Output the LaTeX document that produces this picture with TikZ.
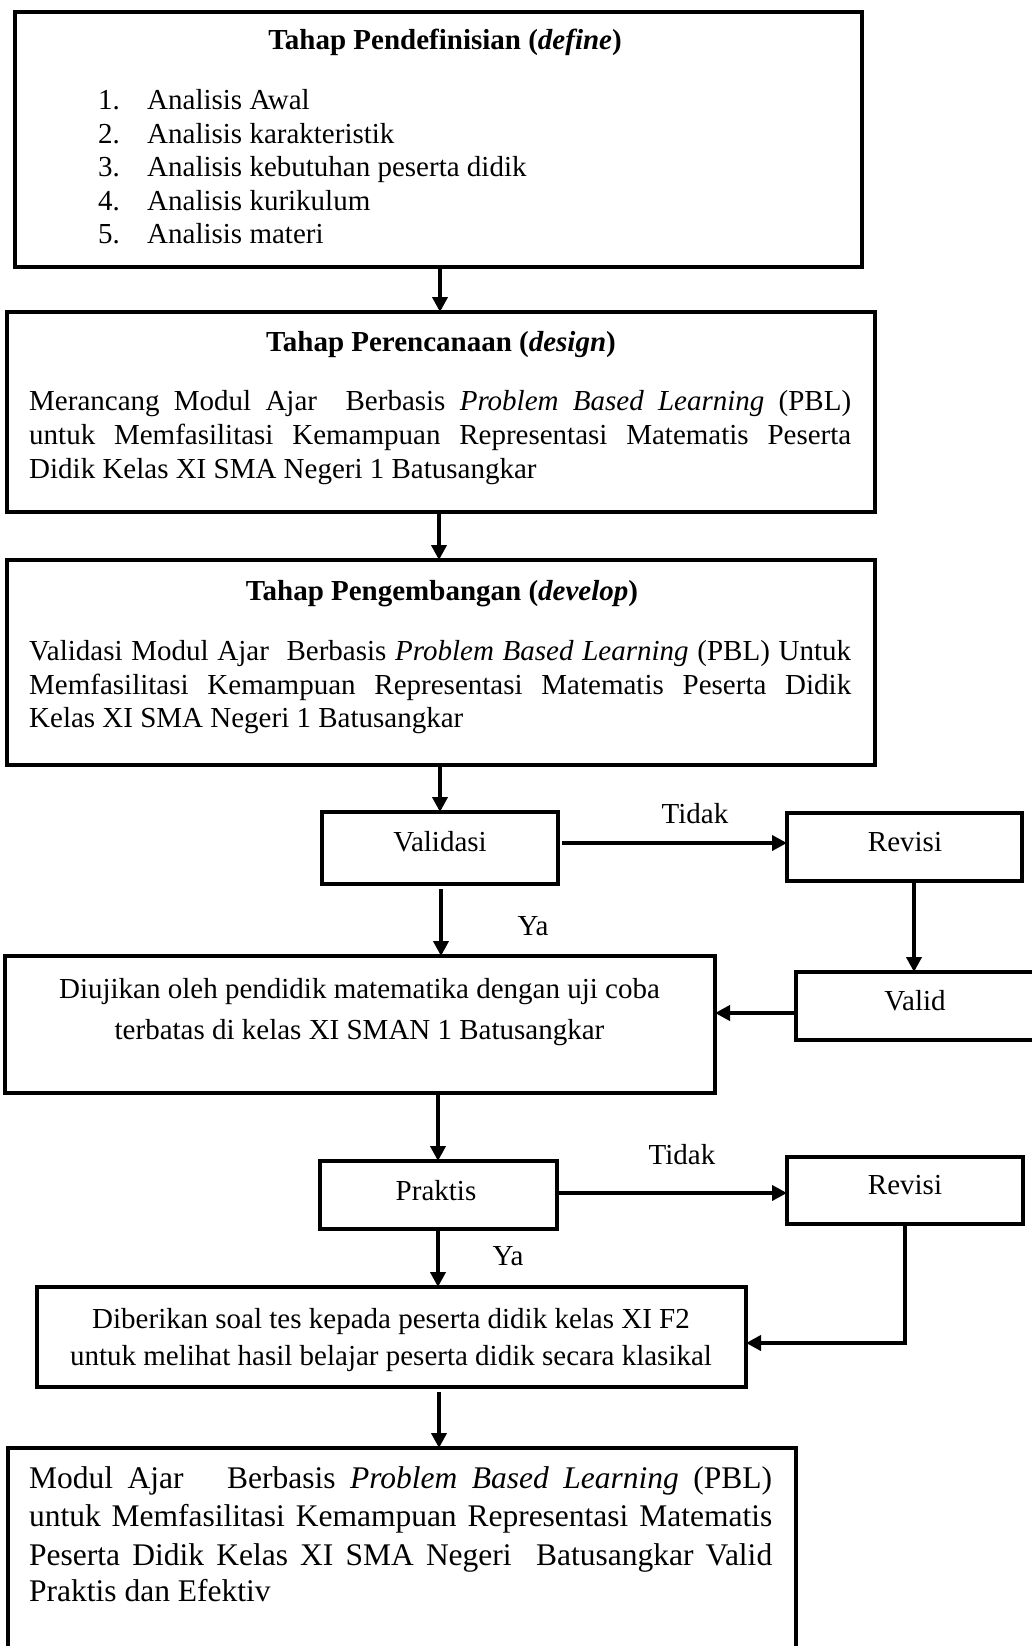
\documentclass[tikz,border=0pt]{standalone}
\usepackage{fontspec}
\setmainfont{Liberation Serif}
\usetikzlibrary{arrows.meta}
\begin{document}
\begin{tikzpicture}[x=1pt,y=-1pt,
  font=\fontsize{29pt}{33pt}\selectfont,
  bx/.style={draw, line width=4pt, inner sep=0pt, outer sep=0pt},
  arr/.style={line width=4pt, -{Triangle[length=15pt,width=15pt]}},
  tx/.style={inner sep=0pt, anchor=base west},
  tc/.style={inner sep=0pt, anchor=base},
  big/.style={font=\fontsize{31.5pt}{36pt}\selectfont}]
\useasboundingbox (0,0) rectangle (1031,1646);

% boxes
\node[bx, minimum width=847pt, minimum height=255pt] (b1) at (438.5,139.5) {};
\node[bx, minimum width=868pt, minimum height=200pt] (b2) at (441,412) {};
\node[bx, minimum width=868pt, minimum height=205pt] (b3) at (441,662.5) {};
\node[bx, minimum width=236pt, minimum height=72pt] (val) at (440,848) {};
\node[bx, minimum width=235pt, minimum height=68pt] (rev1) at (904.5,847) {};
\node[bx, minimum width=244pt, minimum height=68pt] (valid) at (918,1006) {};
\node[bx, minimum width=710pt, minimum height=137pt] (diuj) at (360,1024.5) {};
\node[bx, minimum width=237pt, minimum height=68pt] (pra) at (438,1195) {};
\node[bx, minimum width=236pt, minimum height=67pt] (rev2) at (905,1190.5) {};
\node[bx, minimum width=709pt, minimum height=100pt] (dib) at (391.5,1337) {};
\node[bx, minimum width=788pt, minimum height=224pt] (fin) at (402,1560) {};

% box 1 text
\node[tc] (t1) at (445,50) {\bfseries Tahap Pendefinisian (\textit{define})};
\node[tx] (n1) at (98,110) {1.};
\node[tx] (i1) at (147,110) {Analisis Awal};
\node[tx] (n2) at (98,143.3) {2.};
\node[tx] (i2) at (147,143.3) {Analisis karakteristik};
\node[tx] (n3) at (98,176.7) {3.};
\node[tx] (i3) at (147,176.7) {Analisis kebutuhan peserta didik};
\node[tx] (n4) at (98,210) {4.};
\node[tx] (i4) at (147,210) {Analisis kurikulum};
\node[tx] (n5) at (98,243.3) {5.};
\node[tx] (i5) at (147,243.3) {Analisis materi};

% box 2 text
\node[tc] (t2) at (441,351) {\bfseries Tahap Perencanaan (\textit{design})};
\node[tx] (p21) at (29,410) {\makebox[822pt][s]{Merancang Modul Ajar\ \ Berbasis \textit{Problem Based Learning} (PBL)}};
\node[tx] (p22) at (29,444) {\makebox[822pt][s]{untuk Memfasilitasi Kemampuan Representasi Matematis Peserta}};
\node[tx] (p23) at (29,478) {Didik Kelas XI SMA Negeri 1 Batusangkar};

% box 3 text
\node[tc] (t3) at (442,600) {\bfseries Tahap Pengembangan (\textit{develop})};
\node[tx] (p31) at (29,660) {\makebox[822pt][s]{Validasi Modul Ajar\ \ Berbasis \textit{Problem Based Learning} (PBL) Untuk}};
\node[tx] (p32) at (29,694) {\makebox[822pt][s]{Memfasilitasi Kemampuan Representasi Matematis Peserta Didik}};
\node[tx] (p33) at (29,727) {Kelas XI SMA Negeri 1 Batusangkar};

% small boxes text
\node[tc] (tval) at (440,851) {Validasi};
\node[tc] (trev1) at (905,851) {Revisi};
\node[tc] (tvalid) at (915,1010) {Valid};
\node[tc] (tpra) at (436,1200) {Praktis};
\node[tc] (trev2) at (905,1194) {Revisi};

% labels
\node[tc] (tidak1) at (695,823) {Tidak};
\node[tc] (ya1) at (533,935) {Ya};
\node[tc] (tidak2) at (682,1164) {Tidak};
\node[tc] (ya2) at (508,1265) {Ya};

% diujikan text
\node[tc] (d1) at (359.5,998) {Diujikan oleh pendidik matematika dengan uji coba};
\node[tc] (d2) at (359.5,1039) {terbatas di kelas XI SMAN 1 Batusangkar};

% diberikan text
\node[tc] (g1) at (391,1328) {Diberikan soal tes kepada peserta didik kelas XI F2};
\node[tc] (g2) at (391,1365) {untuk melihat hasil belajar peserta didik secara klasikal};

% final text
\node[tx,big] (f1) at (29,1488) {\makebox[743pt][s]{Modul Ajar\ \ \ Berbasis \textit{Problem Based Learning} (PBL)}};
\node[tx,big] (f2) at (29,1526) {\makebox[743pt][s]{untuk Memfasilitasi Kemampuan Representasi Matematis}};
\node[tx,big] (f3) at (29,1565) {\makebox[743pt][s]{Peserta Didik Kelas XI SMA Negeri\ \ Batusangkar Valid}};
\node[tx,big] (f4) at (29,1601) {Praktis dan Efektiv};

% connectors
\draw[arr] (b1.south -| val.north) -- (b2.north -| val.north);
\draw[arr] ([xshift=-1pt]b2.south -| val.north) -- ([xshift=-1pt]b3.north -| val.north);
\draw[arr] (b3.south -| val.north) -- (val.north);
\draw[arr] ([xshift=1pt,yshift=-5pt]val.south) -- ([xshift=1pt]val.south |- diuj.north);
\draw[arr] ([xshift=4pt,yshift=5pt]val.east) -- ([yshift=5pt]val.east -| rev1.west);
\draw[arr] ([xshift=9.5pt]rev1.south) -- ([xshift=9.5pt]rev1.south |- valid.north);
\draw[arr] ([yshift=-7pt]valid.west) -- ([yshift=-7pt]valid.west -| diuj.east);
\draw[arr] (diuj.south -| pra.north) -- (pra.north);
\draw[arr] ([xshift=2pt,yshift=2pt]pra.east) -- ([yshift=2pt]pra.east -| rev2.west);
\draw[arr] (pra.south) -- (pra.south |- dib.north);
\draw[line width=4pt, -{Triangle[length=15pt,width=15pt]}, line join=miter] (rev2.south) |- ([yshift=-6pt]dib.east);
\draw[arr] ([xshift=1pt,yshift=-5pt]dib.south -| pra.south) -- ([xshift=1pt]pra.south |- fin.north);
\end{tikzpicture}
\end{document}
